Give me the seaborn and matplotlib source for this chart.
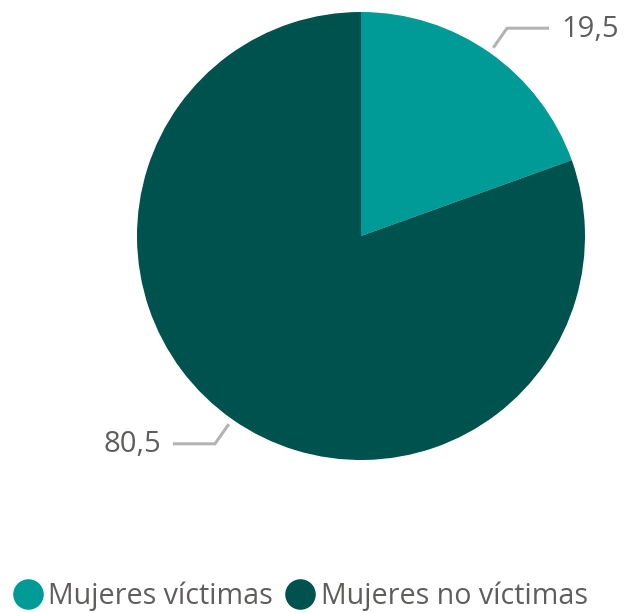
import numpy as np
import matplotlib
matplotlib.use("Agg")
import matplotlib.pyplot as plt
from matplotlib.lines import Line2D
import seaborn as sns

categories = ["Mujeres víctimas", "Mujeres no víctimas"]
values = [19.5, 80.5]
value_labels = ["19,5", "80,5"]
colors = ["#009B96", "#00524F"]

sns.set_theme(style="white")
plt.rcParams["font.family"] = ["Open Sans", "DejaVu Sans"]

W, H = 629, 613
fig = plt.figure(figsize=(W / 100, H / 100), dpi=100)
ax = fig.add_axes([0, 0, 1, 1])

cx, cy, r = 361, H - 236, 224
wedges, _ = ax.pie(values, colors=colors, startangle=90, counterclock=False,
                   center=(cx, cy), radius=r, frame=True,
                   wedgeprops=dict(linewidth=0))
ax.set_xlim(0, W)
ax.set_ylim(0, H)
ax.set_aspect("equal")
ax.axis("off")

text_color = "#605E5C"
line_color = "#B3B3B3"
for w, lab in zip(wedges, value_labels):
    mid = np.deg2rad((w.theta1 + w.theta2) / 2)
    d = np.array([np.cos(mid), np.sin(mid)])
    p0 = np.array([cx, cy]) + d * (r + 6)
    p1 = np.array([cx, cy]) + d * (r + 30)
    side = 1 if d[0] > 0 else -1
    p2 = p1 + np.array([side * 42, 0])
    ax.plot([p0[0], p1[0], p2[0]], [p0[1], p1[1], p2[1]], color=line_color,
            lw=2.2, solid_capstyle="butt")
    ax.text(p2[0] + side * 12, p2[1] - 1, lab, ha="left" if side > 0 else "right",
            va="center", fontsize=21, color=text_color)

handles = [Line2D([0], [0], marker="o", linestyle="none", markersize=22,
                  markerfacecolor=c, markeredgewidth=0) for c in colors]
fig.legend(handles, categories, loc="center left",
           bbox_to_anchor=(12 / W, 17 / H),
           ncol=2, frameon=False, borderpad=0, borderaxespad=0,
           handletextpad=0.17, columnspacing=0.4, handlelength=1.1,
           fontsize=20.6, labelcolor=text_color)

fig.savefig("out.png", dpi=100)
